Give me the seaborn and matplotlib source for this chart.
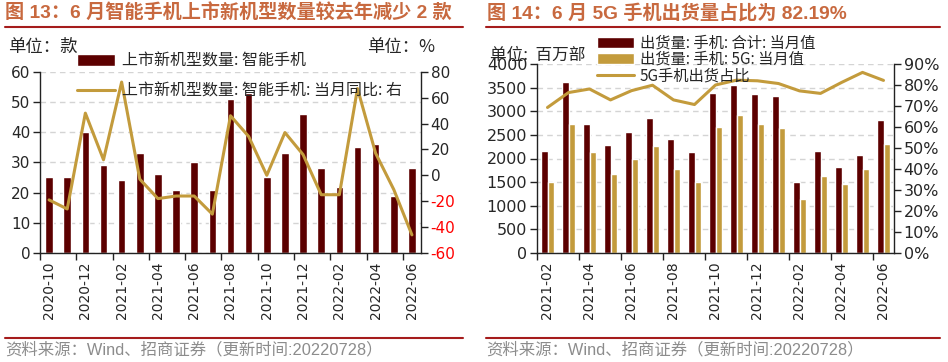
import numpy as np
import pandas as pd
import matplotlib
matplotlib.use('Agg')
import matplotlib.pyplot as plt
from matplotlib.lines import Line2D
from matplotlib.patches import Patch
from matplotlib.ticker import PercentFormatter
import seaborn as sns

# ---- 图13: 智能手机上市新机型 ----
months_13 = ['2020-10', '2020-11', '2020-12', '2021-01', '2021-02', '2021-03', '2021-04',
             '2021-05', '2021-06', '2021-07', '2021-08', '2021-09', '2021-10', '2021-11',
             '2021-12', '2022-01', '2022-02', '2022-03', '2022-04', '2022-05', '2022-06']
new_models = [25, 25, 40, 29, 24, 33, 26, 21, 30, 21, 51, 53, 25, 33, 46, 28, 22, 35, 36, 19, 28]
new_models_yoy = [-19, -26, 48, 12, 72, -3, -18, -16, -16, -30, 46, 30, 0, 33, 16, -15, -15,
                  67, 17, -11, -46]

# ---- 图14: 手机出货量 ----
months_14 = ['2021-02', '2021-03', '2021-04', '2021-05', '2021-06', '2021-07', '2021-08',
             '2021-09', '2021-10', '2021-11', '2021-12', '2022-01', '2022-02', '2022-03',
             '2022-04', '2022-05', '2022-06']
ship_total = [2169, 3613, 2740, 2296, 2563, 2859, 2423, 2141, 3377, 3554, 3356, 3313, 1494,
              2152, 1819, 2081, 2811]
ship_5g = [1500, 2740, 2140, 1662, 1979, 2275, 1768, 1500, 2676, 2917, 2733, 2648, 1133,
           1621, 1465, 1777, 2308]
share_5g = [69.3, 76.4, 78.1, 72.9, 77.3, 79.9, 72.9, 70.7, 80.0, 82.3, 82.0, 80.7, 77.2,
            76.0, 81.2, 86.0, 82.19]

MAROON = '#5C0000'
GOLD = '#C39B3C'
TITLE_C = '#C8693F'
RULE_C = '#A51C1C'
GRID_C = '#D4D4D4'
SPINE_C = '#222222'

sns.set_style('ticks')
plt.rcParams['font.family'] = ['DejaVu Sans', 'Noto Sans CJK SC']
plt.rcParams['axes.unicode_minus'] = False

W, H = 948, 362
fig = plt.figure(figsize=(W / 100, H / 100), dpi=100)
fig.patch.set_facecolor('white')

CJK = ['Liberation Sans', 'Noto Sans CJK SC']
CJK_FIRST = ['Noto Sans CJK SC', 'DejaVu Sans']


def box(x0, y0, x1, y1):
    return [x0 / W, 1 - y1 / H, (x1 - x0) / W, (y1 - y0) / H]


def hline(x0, x1, y, color, lw):
    fig.add_artist(Line2D([x0 / W, x1 / W], [1 - y / H, 1 - y / H],
                          transform=fig.transFigure, color=color, lw=lw))


def ftext(x, y, s, **kw):
    fig.text(x / W, 1 - y / H, s, va='center', **kw)


def one_legend(handle, label, x, y, size=11):
    leg = fig.legend([handle], [label], loc='center left',
                     bbox_to_anchor=(x / W, 1 - y / H), bbox_transform=fig.transFigure,
                     frameon=False, handlelength=2.4, handleheight=0.7,
                     handletextpad=0.4, borderpad=0, borderaxespad=0,
                     prop={'family': CJK_FIRST, 'size': size})
    return leg


def style_axes(ax, axr, n, months):
    ax.set_xlim(-0.5, n - 0.5)
    ax.set_xticks(np.arange(0, n, 2))
    ax.set_xticklabels(months[::2], rotation=90, fontsize=10)
    ax.set_xticks(np.arange(-0.5, n, 2), minor=True)
    ax.tick_params(axis='x', which='major', length=0, pad=6)
    ax.tick_params(axis='x', which='minor', length=5, width=1, direction='out', color=SPINE_C)
    ax.tick_params(axis='y', length=5, width=1, direction='out', color=SPINE_C, pad=2)
    axr.tick_params(axis='y', length=5, width=1, direction='out', color=SPINE_C, pad=2)
    ax.set_xlabel('')
    ax.set_ylabel('')
    axr.set_ylabel('')
    ax.set_axisbelow(True)
    ax.yaxis.grid(True, color=GRID_C, linestyle=(0, (4, 3)), linewidth=1)
    for a in (ax, axr):
        a.spines['top'].set_visible(False)
        for s in a.spines.values():
            s.set_color(SPINE_C)
            s.set_linewidth(1)
    ax.spines['right'].set_visible(False)
    axr.spines['left'].set_visible(False)
    axr.spines['bottom'].set_visible(False)


# ================= 图13 =================
ax1 = fig.add_axes(box(40, 71.7, 421, 253))
sns.barplot(x=months_13, y=new_models, color=MAROON, width=0.42, saturation=1, ax=ax1)
ax1r = ax1.twinx()
sns.lineplot(x=np.arange(len(months_13)), y=new_models_yoy, color=GOLD, lw=2.2,
             legend=False, ax=ax1r)
ax1.set_ylim(0, 60)
ax1.set_yticks(np.arange(0, 61, 10))
ax1.tick_params(axis='y', labelsize=11)
yt = np.arange(-60, 81, 20)
ax1r.set_ylim(-60, 80)
ax1r.set_yticks(yt, labels=[str(v) for v in yt])
ax1r.tick_params(axis='y', labelsize=11)
for lbl, v in zip(ax1r.get_yticklabels(), yt):
    if v < 0:
        lbl.set_color('#FF0000')
style_axes(ax1, ax1r, len(months_13), months_13)

one_legend(Patch(facecolor=MAROON), '上市新机型数量: 智能手机', 77, 61, size=11.5)
one_legend(Line2D([], [], color=GOLD, lw=2.2), '上市新机型数量: 智能手机: 当月同比: 右',
           77, 91, size=11.5)

# ================= 图14 =================
ship_df = pd.DataFrame({
    'month': months_14 * 2,
    'value': ship_total + ship_5g,
    'series': ['出货量:手机:合计:当月值'] * len(months_14) + ['出货量:手机:5G:当月值'] * len(months_14),
})
ax2 = fig.add_axes(box(537, 64, 894, 253))
sns.barplot(data=ship_df, x='month', y='value', hue='series', palette=[MAROON, GOLD],
            width=0.6, saturation=1, legend=False, ax=ax2)
ax2r = ax2.twinx()
sns.lineplot(x=np.arange(len(months_14)), y=share_5g, color=GOLD, lw=2.2, legend=False, ax=ax2r)
ax2.set_ylim(0, 4000)
ax2.set_yticks(np.arange(0, 4001, 500))
ax2.tick_params(axis='y', labelsize=11.5)
ax2r.set_ylim(0, 90)
ax2r.set_yticks(np.arange(0, 91, 10))
ax2r.yaxis.set_major_formatter(PercentFormatter(decimals=0))
ax2r.tick_params(axis='y', labelsize=11.5)
style_axes(ax2, ax2r, len(months_14), months_14)

ftext(490, 55, '单位:  百万部', fontsize=12, family=CJK_FIRST)
one_legend(Patch(facecolor=MAROON), '出货量: 手机: 合计: 当月值', 597, 43)
one_legend(Patch(facecolor=GOLD), '出货量: 手机: 5G: 当月值', 597, 59)
one_legend(Line2D([], [], color=GOLD, lw=2.2), '5G手机出货占比', 597, 76)

# ================= 标题/单位/来源 =================
ftext(5, 13.5, '图 13：6 月智能手机上市新机型数量较去年减少 2 款', fontsize=13.8,
      fontweight='bold', color=TITLE_C, family=CJK)
ftext(487, 13.5, '图 14：6 月 5G 手机出货量占比为 82.19%', fontsize=13.8,
      fontweight='bold', color=TITLE_C, family=CJK)
hline(5, 463, 26.5, RULE_C, 1.5)
hline(486, 940, 26.5, RULE_C, 1.5)

ftext(8, 47, '单位：款', fontsize=12.5, family=CJK_FIRST)
ftext(435, 47, '单位：%', fontsize=12.5, ha='right', family=CJK_FIRST)

hline(5, 463, 337.5, RULE_C, 1.5)
hline(486, 940, 337.5, RULE_C, 1.5)
ftext(5, 350, '资料来源：Wind、招商证券（更新时间:20220728）', fontsize=11.8,
      color='#8C8C8C', family=CJK)
ftext(486, 350, '资料来源：Wind、招商证券（更新时间:20220728）', fontsize=11.8,
      color='#8C8C8C', family=CJK)

fig.savefig('out.png', dpi=100)
